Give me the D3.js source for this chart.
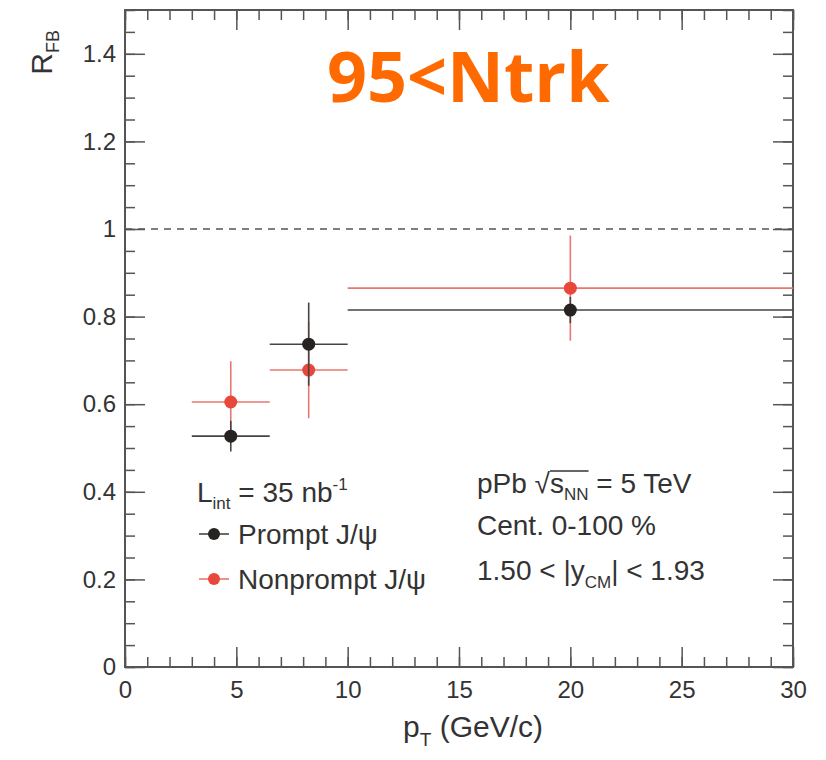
<!DOCTYPE html>
<html>
<head>
<meta charset="utf-8">
<script src="https://cdn.jsdelivr.net/npm/d3@7"></script>
<style>
  body { margin: 0; background: #fff; }
  text { font-family: "Liberation Sans", Arial, sans-serif; fill: #333; }
</style>
</head>
<body>
<div id="chart"></div>
<script>
/* Data */
const ptCenter = [4.75, 8.25, 20];
const ptLow = [3, 6.5, 10];
const ptHigh = [6.5, 10, 30];
const promptR = [0.527, 0.737, 0.815];
const promptErr = [0.035, 0.095, 0.03];
const nonpromptR = [0.605, 0.678, 0.865];
const nonpromptErr = [0.093, 0.11, 0.12];
const xMajorTicks = [0, 5, 10, 15, 20, 25, 30];
const yMajorTicks = [0, 0.2, 0.4, 0.6, 0.8, 1.0, 1.2, 1.4];

const width = 826, height = 760;
const margins = {top: 10, right: 33, bottom: 93, left: 125};

const svg = d3.select("#chart")
  .append("svg")
  .attr("width", width)
  .attr("height", height);

/* Scales */
const xScale = d3.scaleLinear()
  .domain([0, 30])
  .range([margins.left, width - margins.right]);

const yScale = d3.scaleLinear()
  .domain([0, 1.5])
  .range([height - margins.bottom, margins.top]);

const xMinor = d3.range(0, 31, 1);
const yMinor = d3.range(0, 31).map(i => +(i * 0.05).toFixed(2));
const fmtY = d => String(+d.toFixed(1));

// ROOT style: ticks on all four sides, pointing inward
const styleAxis = g => {
  g.select(".domain").remove();
  g.selectAll("line").attr("stroke", "#555").attr("stroke-width", 1.5);
  g.selectAll("text").style("font-size", "24px").attr("fill", "#333");
};

// bottom
svg.append("g")
  .attr("transform", `translate(0, ${yScale(0)})`)
  .call(d3.axisBottom(xScale).tickValues(xMinor).tickSize(-10).tickFormat(""))
  .call(styleAxis);
svg.append("g")
  .attr("transform", `translate(0, ${yScale(0)})`)
  .call(d3.axisBottom(xScale).tickValues(xMajorTicks).tickSize(-20).tickPadding(14))
  .call(styleAxis);
// top
svg.append("g")
  .attr("transform", `translate(0, ${yScale(1.5)})`)
  .call(d3.axisTop(xScale).tickValues(xMinor).tickSize(-10).tickFormat(""))
  .call(styleAxis);
svg.append("g")
  .attr("transform", `translate(0, ${yScale(1.5)})`)
  .call(d3.axisTop(xScale).tickValues(xMajorTicks).tickSize(-20).tickFormat(""))
  .call(styleAxis);
// left
svg.append("g")
  .attr("transform", `translate(${xScale(0)}, 0)`)
  .call(d3.axisLeft(yScale).tickValues(yMinor).tickSize(-10).tickFormat(""))
  .call(styleAxis);
svg.append("g")
  .attr("transform", `translate(${xScale(0)}, 0)`)
  .call(d3.axisLeft(yScale).tickValues(yMajorTicks).tickSize(-20).tickPadding(9).tickFormat(fmtY))
  .call(styleAxis);
// right
svg.append("g")
  .attr("transform", `translate(${xScale(30)}, 0)`)
  .call(d3.axisRight(yScale).tickValues(yMinor).tickSize(-10).tickFormat(""))
  .call(styleAxis);
svg.append("g")
  .attr("transform", `translate(${xScale(30)}, 0)`)
  .call(d3.axisRight(yScale).tickValues(yMajorTicks).tickSize(-20).tickFormat(""))
  .call(styleAxis);

/* Frame */
svg.append("rect")
  .attr("x", xScale(0))
  .attr("y", yScale(1.5))
  .attr("width", xScale(30) - xScale(0))
  .attr("height", yScale(0) - yScale(1.5))
  .attr("fill", "none")
  .attr("stroke", "#555")
  .attr("stroke-width", 2);

/* Dashed line at unity */
svg.append("line")
  .attr("x1", xScale(0))
  .attr("x2", xScale(30))
  .attr("y1", yScale(1))
  .attr("y2", yScale(1))
  .attr("stroke", "#555")
  .attr("stroke-width", 1.5)
  .attr("stroke-dasharray", "7,6");

/* Data series */
const series = [
  {name: "Nonprompt", r: nonpromptR, err: nonpromptErr, line: "#e8786f", dot: "#e8473b"},
  {name: "Prompt", r: promptR, err: promptErr, line: "#444", dot: "#262322"}
];

series.forEach(s => {
  const pts = ptCenter.map((x, i) => ({x: x, lo: ptLow[i], hi: ptHigh[i], r: s.r[i], e: s.err[i]}));
  const g = svg.append("g");
  g.selectAll("line.h")
    .data(pts)
    .join("line")
      .attr("class", "h")
      .attr("x1", d => xScale(d.lo))
      .attr("x2", d => xScale(d.hi))
      .attr("y1", d => yScale(d.r))
      .attr("y2", d => yScale(d.r))
      .attr("stroke", s.line)
      .attr("stroke-width", 1.6);
  g.selectAll("line.v")
    .data(pts)
    .join("line")
      .attr("class", "v")
      .attr("x1", d => xScale(d.x))
      .attr("x2", d => xScale(d.x))
      .attr("y1", d => yScale(d.r - d.e))
      .attr("y2", d => yScale(d.r + d.e))
      .attr("stroke", s.line)
      .attr("stroke-width", 1.6);
  g.selectAll("circle")
    .data(pts)
    .join("circle")
      .attr("cx", d => xScale(d.x))
      .attr("cy", d => yScale(d.r))
      .attr("r", 6.5)
      .attr("fill", s.dot);
});

/* Axis titles */
const yTitle = svg.append("text")
  .attr("transform", "translate(52, 30) rotate(-90)")
  .attr("text-anchor", "end")
  .style("font-size", "30px");
yTitle.append("tspan").text("R");
yTitle.append("tspan").attr("dy", 7).style("font-size", "18px").text("FB");

const xTitle = svg.append("text")
  .attr("x", 543)
  .attr("y", 737)
  .attr("text-anchor", "end")
  .style("font-size", "30px");
xTitle.append("tspan").text("p");
xTitle.append("tspan").attr("dy", 9).style("font-size", "19px").text("T");
xTitle.append("tspan").attr("dy", -9).text(" (GeV/c)");

/* Legend */
const lint = svg.append("text").attr("x", 197).attr("y", 502).style("font-size", "28px");
lint.append("tspan").text("L");
lint.append("tspan").attr("dy", 7).style("font-size", "17px").text("int");
lint.append("tspan").attr("dy", -7).text(" = 35 nb");
lint.append("tspan").attr("dy", -12).style("font-size", "17px").text("-1");

const legendRows = [
  {label: "Prompt J/\u03c8", y: 534, line: "#444", dot: "#262322"},
  {label: "Nonprompt J/\u03c8", y: 579, line: "#e8786f", dot: "#e8473b"}
];
legendRows.forEach(d => {
  svg.append("line")
    .attr("x1", 199).attr("x2", 229)
    .attr("y1", d.y).attr("y2", d.y)
    .attr("stroke", d.line).attr("stroke-width", 1.6);
  svg.append("circle")
    .attr("cx", 214).attr("cy", d.y).attr("r", 6)
    .attr("fill", d.dot);
  svg.append("text")
    .attr("x", 238).attr("y", d.y + 10)
    .style("font-size", "28px")
    .text(d.label);
});

const info1 = svg.append("text").attr("x", 477).attr("y", 493).style("font-size", "28px");
info1.append("tspan").text("pPb \u221a");
info1.append("tspan").text("s");
info1.append("tspan").attr("dy", 7).style("font-size", "17px").text("NN");
info1.append("tspan").attr("dy", -7).text(" = 5 TeV");

// overline of the square root, over "s" and "NN"
const n1 = info1.node();
svg.append("line")
  .attr("x1", n1.getStartPositionOfChar(5).x)
  .attr("x2", n1.getEndPositionOfChar(7).x)
  .attr("y1", 471)
  .attr("y2", 471)
  .attr("stroke", "#333")
  .attr("stroke-width", 1.5);

svg.append("text").attr("x", 477).attr("y", 535).style("font-size", "28px").text("Cent. 0-100 %");

const info3 = svg.append("text").attr("x", 477).attr("y", 580).style("font-size", "28px");
info3.append("tspan").text("1.50 < |y");
info3.append("tspan").attr("dy", 8).style("font-size", "17px").text("CM");
info3.append("tspan").attr("dy", -8).text("| < 1.93");

/* Orange headline */
svg.append("text")
  .attr("x", 327)
  .attr("y", 102)
  .style("font-family", "'Open Sans', sans-serif")
  .style("font-weight", 700)
  .style("font-size", "70px")
  .style("fill", "#ff6a00")
  .text("95<Ntrk");
</script>
</body>
</html>
